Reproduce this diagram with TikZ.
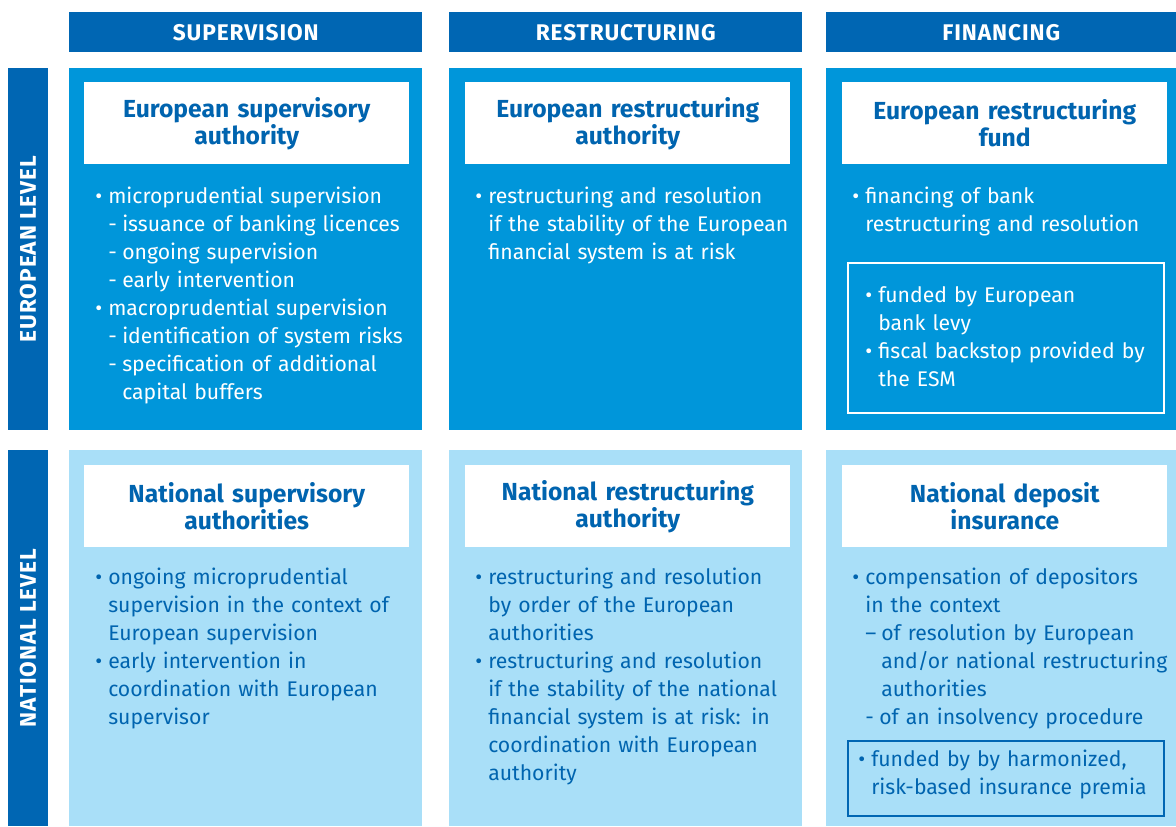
\documentclass[tikz,border=0pt]{standalone}
\usepackage{fontspec}
\setmainfont{Fira Sans}
\usepackage{xcolor}
\definecolor{colorHead}{HTML}{0066B3}
\definecolor{colorEuropean}{HTML}{0096DA}
\definecolor{colorNational}{HTML}{A9DFF8}
\definecolor{colorText}{HTML}{0064AF}
\usetikzlibrary{positioning}
\newcommand{\bul}{\strut\makebox[9.75pt][l]{\textbullet}}
\newcommand{\dsh}{\makebox[10.5pt][l]{-}}
\newcommand{\ind}{\hspace*{9.75pt}}
\newcommand{\subind}{\hspace*{20.25pt}}
\tikzset{
  head/.style={fill=colorHead, text=white,
    font=\fontsize{17}{20}\selectfont\bfseries\addfontfeature{LetterSpace=4},
    minimum height=30pt, inner sep=0pt, anchor=north west},
  levelbar/.style={fill=colorHead, text=white,
    font=\fontsize{17}{20}\selectfont\bfseries\addfontfeature{LetterSpace=4},
    minimum height=30pt, inner sep=0pt, rotate=90},
  panel/.style={inner sep=0pt, anchor=north west, minimum width=264.75pt},
  titlebox/.style={fill=white, text=colorText, font=\fontsize{18.5}{20.25}\selectfont\bfseries,
    text width=243.75pt, minimum height=61.5pt, inner sep=0pt, align=center, anchor=north west},
  body/.style={font=\fontsize{15.9}{21}\selectfont, text width=252pt, align=left,
    inner sep=0pt, anchor=north west},
  frame/.style={line width=1.2pt, minimum width=237pt, inner sep=0pt, anchor=north west}
}
\begin{document}
\begin{tikzpicture}[x=0.75pt, y=-0.75pt]
\useasboundingbox (0,0) rectangle (1176,826);
% column heads
\node[head, minimum width=264.75pt] (hsup) at (69,12) {SUPERVISION};
\node[head, minimum width=264.75pt] (hres) at (449,12) {RESTRUCTURING};
\node[head, minimum width=262.5pt] (hfin) at (826,12) {FINANCING};
% level bars
\node[levelbar, minimum width=271.5pt] (leu) at (28,249) {EUROPEAN LEVEL};
\node[levelbar, minimum width=282pt] (lnat) at (28,638) {NATIONAL LEVEL};
% panels
\node[panel, fill=colorEuropean, minimum height=271.5pt] (eusup) at (69,68) {};
\node[panel, fill=colorEuropean, minimum height=271.5pt] (eures) at (449,68) {};
\node[panel, fill=colorEuropean, minimum height=271.5pt, minimum width=262.5pt] (eufin) at (826,68) {};
\node[panel, fill=colorNational, minimum height=282pt] (natsup) at (69,450) {};
\node[panel, fill=colorNational, minimum height=282pt] (natres) at (449,450) {};
\node[panel, fill=colorNational, minimum height=282pt, minimum width=262.5pt] (natfin) at (826,450) {};
% titles
\node[titlebox] (teusup) at (84,82) {European supervisory\\authority};
\node[titlebox] (teures) at (465,82) {European restructuring\\authority};
\node[titlebox] (teufin) at (842,82) {European restructuring\\fund};
\node[titlebox] (tnatsup) at (84,465) {National supervisory\\authorities};
\node[titlebox] (tnatres) at (465,465) {National restructuring\\authority};
\node[titlebox] (tnatfin) at (842,465) {National deposit\\insurance};
% frames in the financing column
\node[frame, draw=white, minimum height=112.5pt] (fneu) at (847,262) {};
\node[frame, draw=colorHead, minimum height=56.25pt] (fnnat) at (847,740) {};
% european level texts
\node[body, text=white] (beusup) at (95,184) {\bul microprudential supervision\\
\ind\dsh issuance of banking licences\\
\ind\dsh ongoing supervision\\
\ind\dsh early intervention\\
\bul macroprudential supervision\\
\ind\dsh identification of system risks\\
\ind\dsh specification of additional\\
\subind capital buffers};
\node[body, text=white] (beures) at (475,184) {\bul restructuring and resolution\\
\ind if the stability of the European\\
\ind financial system is at risk};
\node[body, text=white] (beufin) at (852,184) {\bul financing of bank\\
\ind restructuring and resolution};
\node[body, text=white] (bfneu) at (865,283) {\bul funded by European\\
\ind bank levy\\
\bul fiscal backstop provided by\\
\ind the ESM};
% national level texts
\node[body, text=colorText] (bnatsup) at (95,565) {\bul ongoing microprudential\\
\ind supervision in the context of\\
\ind European supervision\\
\bul early intervention in\\
\ind coordination with European\\
\ind supervisor};
\node[body, text=colorText] (bnatres) at (475,565) {\bul restructuring and resolution\\
\ind by order of the European\\
\ind authorities\\
\bul restructuring and resolution\\
\ind if the stability of the national\\
\ind financial system is at risk: in\\
\ind coordination with European\\
\ind authority};
\node[body, text=colorText] (bnatfin) at (852,565) {\bul compensation of depositors\\
\ind in the context\\
\ind\makebox[12pt][l]{--}of resolution by European\\
\hspace*{21.75pt}and/or national restructuring\\
\hspace*{21.75pt}authorities\\
\ind\dsh of an insolvency procedure};
\node[body, text=colorText] (bfnnat) at (858,747) {\bul funded by by harmonized,\\
\ind risk-based insurance premia};
\end{tikzpicture}
\end{document}
